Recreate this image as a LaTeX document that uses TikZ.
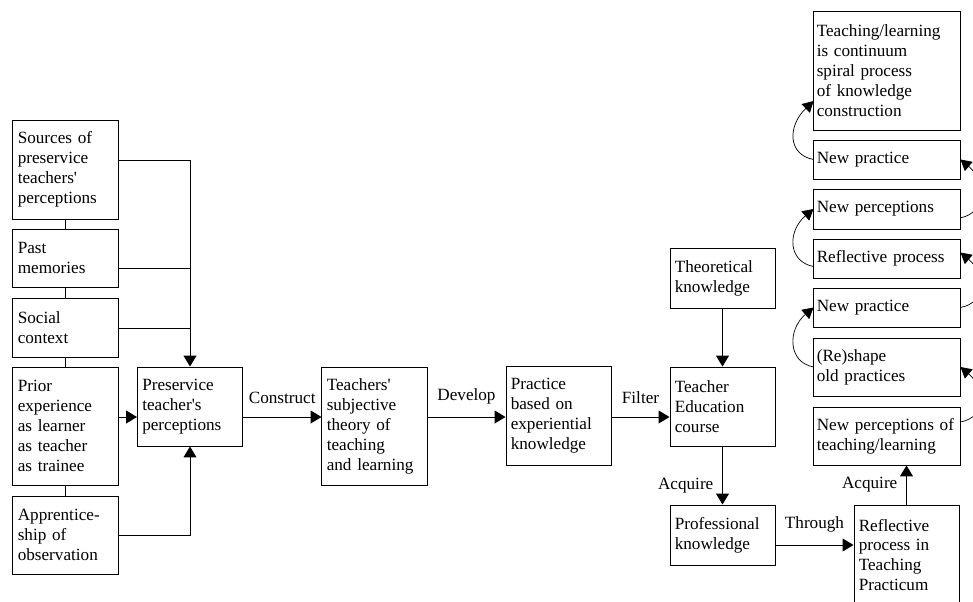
\documentclass[tikz,border=0pt]{standalone}
\usepackage{fontspec}
\setmainfont{Liberation Serif}
\usetikzlibrary{arrows.meta}

\begin{document}
\begin{tikzpicture}[x=0.025cm,y=-0.025cm,line width=0.7pt,
  font=\fontsize{12.2}{14.2}\selectfont,
  box/.style={draw,rectangle,align=left,inner xsep=0.12cm,inner ysep=0pt,text width=2.385cm},
  wbox/.style={draw,rectangle,align=left,inner xsep=0.07cm,inner ysep=0pt,text width=3.51cm},
  arr/.style={-{Triangle[length=0.27cm,width=0.32cm]}},
  spiral/.style={line width=0.5pt,-{Triangle[length=0.27cm,width=0.3cm]}}]

  \useasboundingbox (0,0) rectangle (973,601);

  % sources column
  \node[box,minimum height=2.475cm] at (65.5,169.5) (src) {Sources of\\preservice\\teachers\textquotesingle\\perceptions};
  \node[box,minimum height=1.45cm] at (65.5,258) (past) {Past\\memories};
  \node[box,minimum height=1.475cm] at (65.5,327.5) (social) {Social\\context};
  \node[box,minimum height=2.95cm] at (65.5,426) (prior) {Prior\\experience\\as learner\\as teacher\\as trainee};
  \node[box,minimum height=1.95cm] at (65.5,535) (appr) {Apprentice-\\ship of\\observation};

  % main row
  \node[box,minimum height=1.975cm] at (190,406.5) (perc) {Preservice\\teacher\textquotesingle s\\perceptions};
  \node[box,minimum height=2.95cm] at (374.5,426) (theory) {Teachers\textquotesingle\\subjective\\theory of\\teaching\\and learning};
  \node[box,minimum height=2.475cm] at (558.5,416) (practice) {Practice\\based on\\experiential\\knowledge};
  \node[box,minimum height=1.975cm] at (722.5,406.5) (course) {Teacher\\Education\\course};
  \node[box,minimum height=1.5cm] at (722.5,278) (theo) {Theoretical\\knowledge};
  \node[box,minimum height=1.5cm] at (722.5,535) (prof) {Professional\\knowledge};
  \node[box,minimum height=2.5cm] at (906.5,555) (refl) {Reflective\\process in\\Teaching\\Practicum};

  % spiral column
  \node[wbox,minimum height=1.45cm] at (887,436) (npt) {New perceptions of\\teaching/learning};
  \node[wbox,minimum height=1.45cm] at (887,367) (reshape) {(Re)shape\\old practices};
  \node[wbox,minimum height=0.975cm] at (887,307.5) (npr2) {New practice};
  \node[wbox,minimum height=0.975cm] at (887,258.5) (rp) {Reflective process};
  \node[wbox,minimum height=1cm] at (887,209) (np) {New perceptions};
  \node[wbox,minimum height=0.975cm] at (887,159.5) (npr1) {New practice};
  \node[wbox,minimum height=2.95cm] at (887,71) (tl) {Teaching/learning\\is continuum\\spiral process\\of knowledge\\construction};

  \coordinate (j1) at (190,160);
  \coordinate (j2) at (190,268);
  \coordinate (j3) at (190,328);
  \coordinate (r1) at (0,417);
  \coordinate (r2) at (0,545);

  \draw (src.south)--(past.north);
  \draw (past.south)--(social.north);
  \draw (social.south)--(prior.north);
  \draw (prior.south)--(appr.north);

  \draw (j1 -| src.east)--(j1);
  \draw (j2 -| past.east)--(j2);
  \draw (j3 -| social.east)--(j3);
  \draw[arr] (j1)--(perc.north);
  \draw[arr] (r1 -| prior.east)--(r1 -| perc.west);
  \draw[arr] (appr.east) -| (perc.south);

  \draw[arr] (r1 -| perc.east)--(r1 -| theory.west) node[midway,above=0.2cm] {Construct};
  \draw[arr] (r1 -| theory.east)--(r1 -| practice.west) node[midway,above=0.2cm] {Develop};
  \draw[arr] (r1 -| practice.east)--(r1 -| course.west) node[midway,above=0.2cm] {Filter};
  \draw[arr] (theo.south)--(course.north);
  \draw[arr] (course.south)--(prof.north) node[pos=0.67,left=0.1cm] {Acquire};
  \draw[arr] (r2 -| prof.east)--(r2 -| refl.west) node[midway,above=0.2cm] {Through};
  \draw[arr] (refl.north)--(refl.north |- npt.south) node[midway,left=0.1cm] {Acquire};

  % spiral
  \draw[spiral] (npr1.west) .. controls +(-26,-5) and +(-26,25) .. ([yshift=-0.75cm]tl.west);
  \draw[spiral] ([yshift=-0.2cm]rp.west) .. controls +(-26,-5) and +(-26,22) .. (np.west);
  \draw[spiral] (reshape.west) .. controls +(-26,-5) and +(-26,22) .. (npr2.west);
  \draw[spiral] ([yshift=-0.22cm]np.east) .. controls +(26,-5) and +(26,22) .. (npr1.east);
  \draw[spiral] (npr2.east) .. controls +(26,-5) and +(26,22) .. ([yshift=0.15cm]rp.east);
  \draw[spiral] ([yshift=0.35cm]npt.east) .. controls +(26,-5) and +(26,22) .. (reshape.east);

\end{tikzpicture}
\end{document}
